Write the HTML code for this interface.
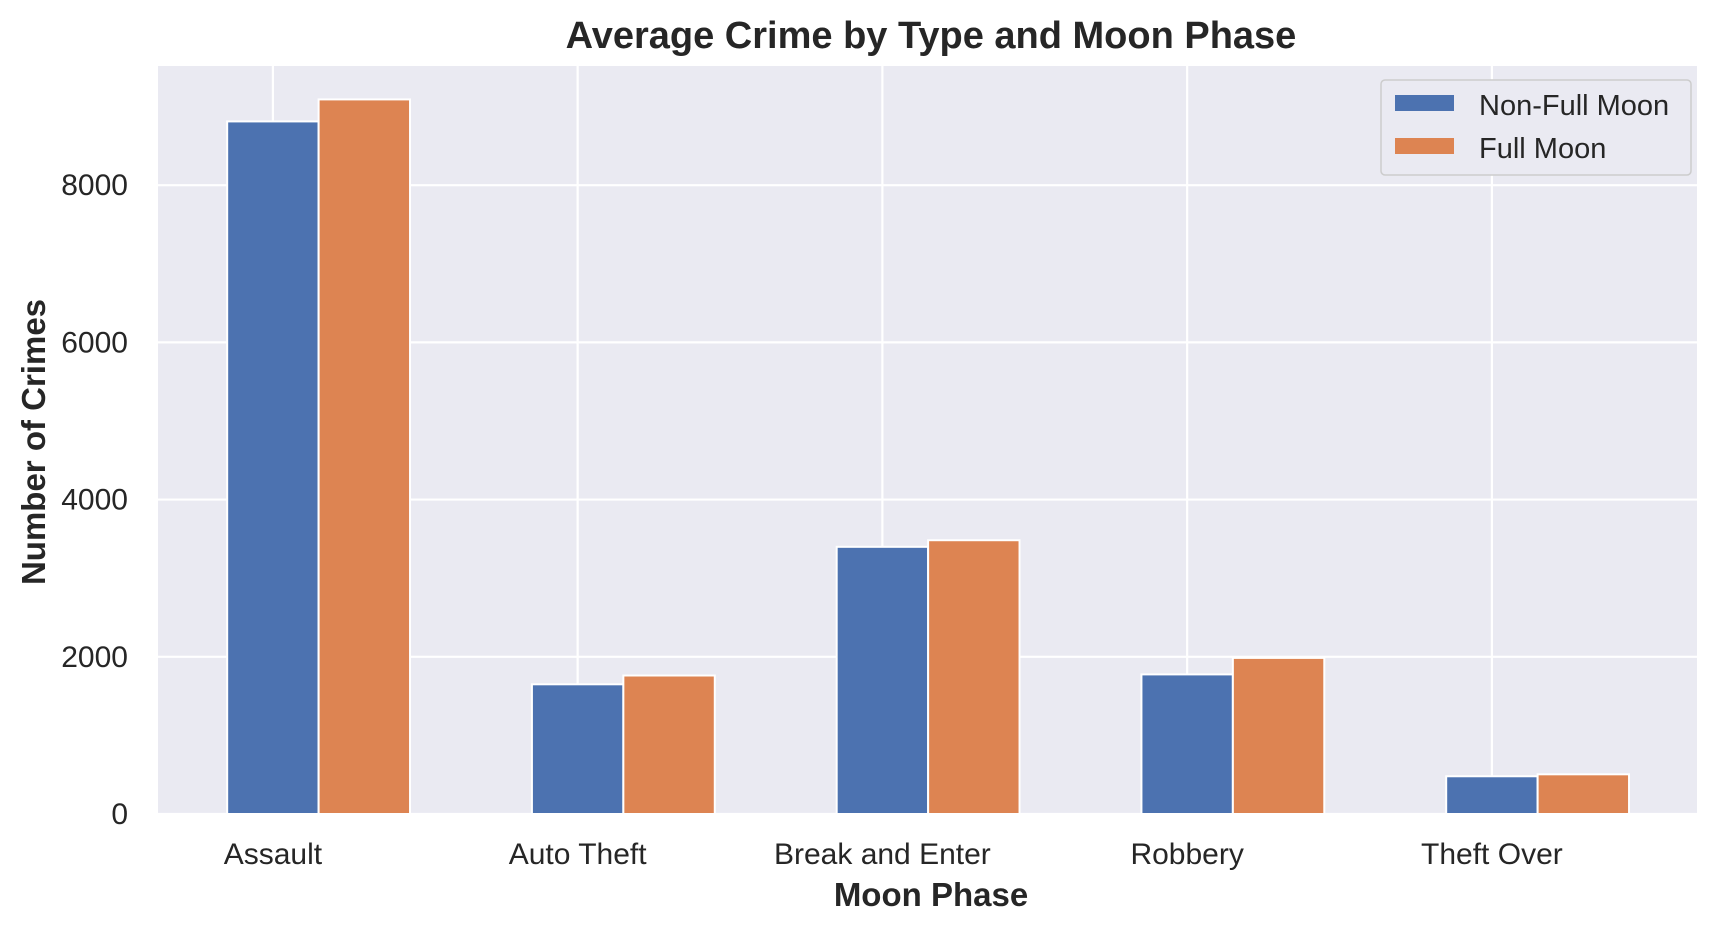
<!DOCTYPE html>
<html><head><meta charset="utf-8"><style>
body{margin:0;background:#fff;}
svg text{font-family:"Liberation Sans",Arial,sans-serif;fill:#262626;}
</style></head><body>
<svg id="chart" width="1724" height="931" viewBox="0 0 1724 931">
<rect x="158" y="66" width="1539" height="748" fill="#eaeaf2"/>
<g id="grid"></g><g id="bars"></g><g id="ticks"></g>
<text x="931" y="48" text-anchor="middle" font-size="38" font-weight="bold">Average Crime by Type and Moon Phase</text>
<text x="931" y="906" text-anchor="middle" font-size="33" font-weight="bold">Moon Phase</text>
<text transform="translate(45,442) rotate(-90)" text-anchor="middle" font-size="33" font-weight="bold">Number of Crimes</text>
<g>
<rect x="1381" y="80" width="310" height="95" rx="4" fill="#eaeaf2" stroke="#cccccc" stroke-width="1.5"/>
<rect x="1395" y="95" width="59" height="16" fill="#4c72b0"/>
<text x="1479" y="115" font-size="29">Non-Full Moon</text>
<rect x="1395" y="138" width="59" height="16" fill="#dd8452"/>
<text x="1479" y="158" font-size="29">Full Moon</text>
</g>
</svg>
<script>
const categories=["Assault","Auto Theft","Break and Enter","Robbery","Theft Over"];
const nonFullMoon=[8811,1650,3399,1776,480];
const fullMoon=[9091,1762,3483,1986,505];
const yTicks=[0,2000,4000,6000,8000];
const NS="http://www.w3.org/2000/svg";
const L=158,R=1697,T=66,B=814,yMax=9516;
const xMin=-0.377,xMax=4.673;
const xs=v=>L+(v-xMin)/(xMax-xMin)*(R-L);
const ys=v=>B-v/yMax*(B-T);
const bw=0.3;
function mk(t,a,p){const e=document.createElementNS(NS,t);for(const k in a)e.setAttribute(k,a[k]);p.appendChild(e);return e;}
const grid=document.getElementById('grid'),bars=document.getElementById('bars'),ticks=document.getElementById('ticks');
yTicks.forEach(v=>{
 const l=mk('line',{x1:L,x2:R,y1:ys(v),y2:ys(v),stroke:'#fff','stroke-width':2.2},grid);
 
 
 const t=mk('text',{x:128,y:ys(v)+10,'text-anchor':'end','font-size':30},ticks);t.textContent=v;
 
 
});
categories.forEach((c,i)=>{
 const l=mk('line',{x1:xs(i),x2:xs(i),y1:T,y2:B,stroke:'#fff','stroke-width':2.2},grid);
 
 
 const t=mk('text',{x:xs(i),y:864,'text-anchor':'middle','font-size':30},ticks);t.textContent=c;
 
 
 const b1=mk('rect',{x:xs(i-bw/2),y:ys(nonFullMoon[i]),width:xs(i+bw/2)-xs(i-bw/2),height:B-ys(nonFullMoon[i]),fill:'#4c72b0',stroke:'#fff','stroke-width':2},bars);
 
 
 const b2=mk('rect',{x:xs(i+bw/2),y:ys(fullMoon[i]),width:xs(i+1.5*bw)-xs(i+bw/2),height:B-ys(fullMoon[i]),fill:'#dd8452',stroke:'#fff','stroke-width':2},bars);
 
 
});
</script>
</body></html>
